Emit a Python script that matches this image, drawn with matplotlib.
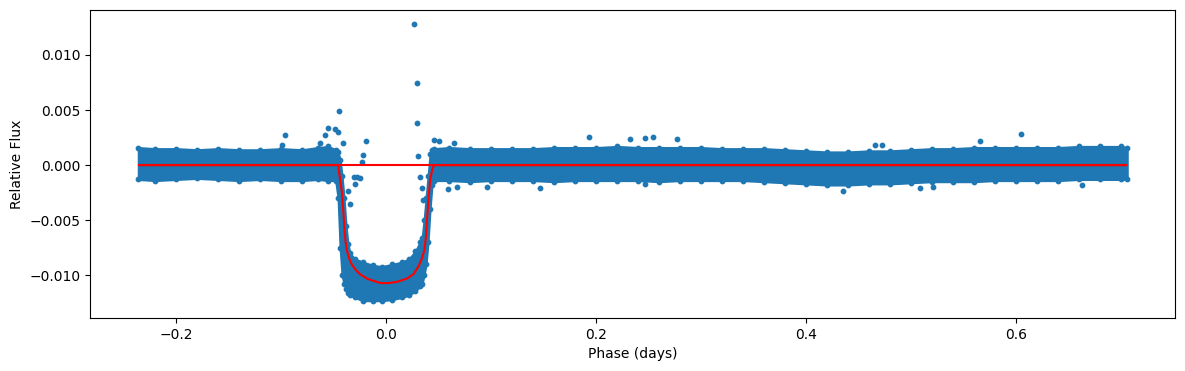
import numpy as np
import matplotlib.pyplot as plt

# Outer edges of the dense folded light-curve cloud
env_phase = [-0.236, -0.22, -0.20, -0.18, -0.16, -0.14, -0.12, -0.10, -0.08, -0.065, -0.055, -0.048,
             -0.0457, -0.0438, -0.0419, -0.0400, -0.0381, -0.0362, -0.0343, -0.030, -0.022, -0.012,
             -0.004, 0.006, 0.015, 0.022, 0.028, 0.0324, 0.0343, 0.0362, 0.0381, 0.0400, 0.0419,
             0.0438, 0.0457,
             0.06, 0.08, 0.10, 0.12, 0.14, 0.16, 0.18, 0.20, 0.22, 0.24, 0.26, 0.28, 0.30, 0.32,
             0.34, 0.36, 0.38, 0.40, 0.42, 0.44, 0.46, 0.48, 0.50, 0.52, 0.54, 0.56, 0.58, 0.60,
             0.62, 0.64, 0.66, 0.68, 0.70, 0.706]
env_hi = [0.0016, 0.0015, 0.0015, 0.0014, 0.0015, 0.0014, 0.0014, 0.0015, 0.0014, 0.0016, 0.0017, 0.0014,
          0.0012, 0.0005, -0.0010, -0.0030, -0.0055, -0.0072, -0.0080, -0.0085, -0.0088, -0.0091,
          -0.0092, -0.0090, -0.0088, -0.0085, -0.0078, -0.0070, -0.0066, -0.0050, -0.0030, -0.0010, 0.0010,
          0.0014, 0.0015,
          0.0016, 0.0015, 0.0015, 0.0015, 0.0015, 0.0016, 0.0016, 0.0016, 0.0017, 0.0016, 0.0016, 0.0016,
          0.0016, 0.0015, 0.0015, 0.0015, 0.0014, 0.0013, 0.0012, 0.0012, 0.0013, 0.0013, 0.0014, 0.0015,
          0.0015, 0.0016, 0.0016, 0.0016, 0.0016, 0.0016, 0.0017, 0.0017, 0.0017, 0.0016]
env_lo = [-0.0013, -0.0014, -0.0013, -0.0012, -0.0013, -0.0014, -0.0013, -0.0014, -0.0014, -0.0013, -0.0014, -0.0014,
          -0.0030, -0.0075, -0.0100, -0.0108, -0.0112, -0.0116, -0.0118, -0.0120, -0.0123, -0.0123,
          -0.0123, -0.0122, -0.0120, -0.0118, -0.0114, -0.0110, -0.0108, -0.0100, -0.0090, -0.0070, -0.0040,
          -0.0018, -0.0014,
          -0.0014, -0.0015, -0.0014, -0.0014, -0.0014, -0.0015, -0.0014, -0.0014, -0.0014, -0.0014, -0.0015,
          -0.0014, -0.0014, -0.0014, -0.0014, -0.0015, -0.0016, -0.0017, -0.0018, -0.0018, -0.0017, -0.0017,
          -0.0016, -0.0015, -0.0015, -0.0015, -0.0014, -0.0014, -0.0014, -0.0014, -0.0013, -0.0013, -0.0013,
          -0.0013]

# Isolated points outside the main cloud
out_phase = [0.027, 0.0292, 0.0298, -0.0444, 0.0308, -0.055, -0.0486, -0.0454, -0.058, -0.063,
             -0.0406, -0.096, -0.0194, -0.0216, -0.023, -0.028, -0.031, -0.025, -0.0295, -0.034,
             -0.036, -0.099, 0.0324, 0.034, 0.0356, 0.0457, 0.0508, 0.0594, 0.068, 0.065,
             0.1937, 0.1467, 0.096, 0.232, 0.247, 0.2546, 0.277, 0.2467, 0.6048, 0.566,
             0.466, 0.4727, 0.435, 0.5086, 0.521, 0.6625]
out_flux = [0.0128, 0.00743, 0.00379, 0.00494, 0.00082, 0.0034, 0.0033, 0.0030, 0.0027, 0.0020,
            0.00197, 0.0027, 0.0022, 0.0009, 0.0003, -0.0011, -0.0011, -0.0012, -0.0017, -0.0035,
            -0.0023, 0.0018, -0.0011, -0.0021, -0.0032, 0.0023, 0.0022, -0.0022, -0.0020, 0.0020,
            0.0026, -0.0021, -0.0020, 0.0024, 0.0025, 0.0026, 0.0024, -0.0017, 0.0028, 0.0022,
            0.0018, 0.0018, -0.0023, -0.0021, -0.0020, -0.0018]

# Transit model curve
model_phase = [-0.235, -0.0455, -0.0445, -0.042, -0.0405, -0.0395, -0.0385, -0.0374, -0.035, -0.0327,
               -0.029, -0.0248, -0.018, -0.0121, -0.005, 0.002, 0.010, 0.0197, 0.026, 0.0308,
               0.034, 0.0365, 0.038, 0.0394, 0.0405, 0.0419, 0.0440, 0.0457, 0.705]
model_flux = [0.0, 0.0, -0.0008, -0.0025, -0.0045, -0.0060, -0.0070, -0.0077, -0.0085, -0.0090,
              -0.0095, -0.0099, -0.0103, -0.0105, -0.0107, -0.0107, -0.0106, -0.0103, -0.0099, -0.0092,
              -0.0085, -0.0077, -0.0065, -0.0044, -0.0030, -0.0014, -0.0004, 0.0, 0.0]

blue = '#1f77b4'
fig, ax = plt.subplots(figsize=(11.85, 3.71), dpi=100)
fig.subplots_adjust(left=90/1185, right=1175/1185, top=1 - 10/371, bottom=1 - 318/371)

ax.fill_between(env_phase, env_lo, env_hi, color=blue, linewidth=1.5, edgecolor=blue)
ax.scatter(env_phase, env_hi, s=10, color=blue)
ax.scatter(env_phase, env_lo, s=10, color=blue)
ax.scatter(out_phase, out_flux, s=10, color=blue)

# model line (the folded model wraps back across the plot at zero)
ax.plot(model_phase, model_flux, color='red')
ax.plot([model_phase[0], model_phase[-1]], [0.0, 0.0], color='red')

ax.set_xlim(-0.282, 0.7515)
ax.set_ylim(-0.01387, 0.01408)
ax.set_xlabel("Phase (days)")
ax.set_ylabel("Relative Flux")
plt.savefig("out.png", dpi=100)
